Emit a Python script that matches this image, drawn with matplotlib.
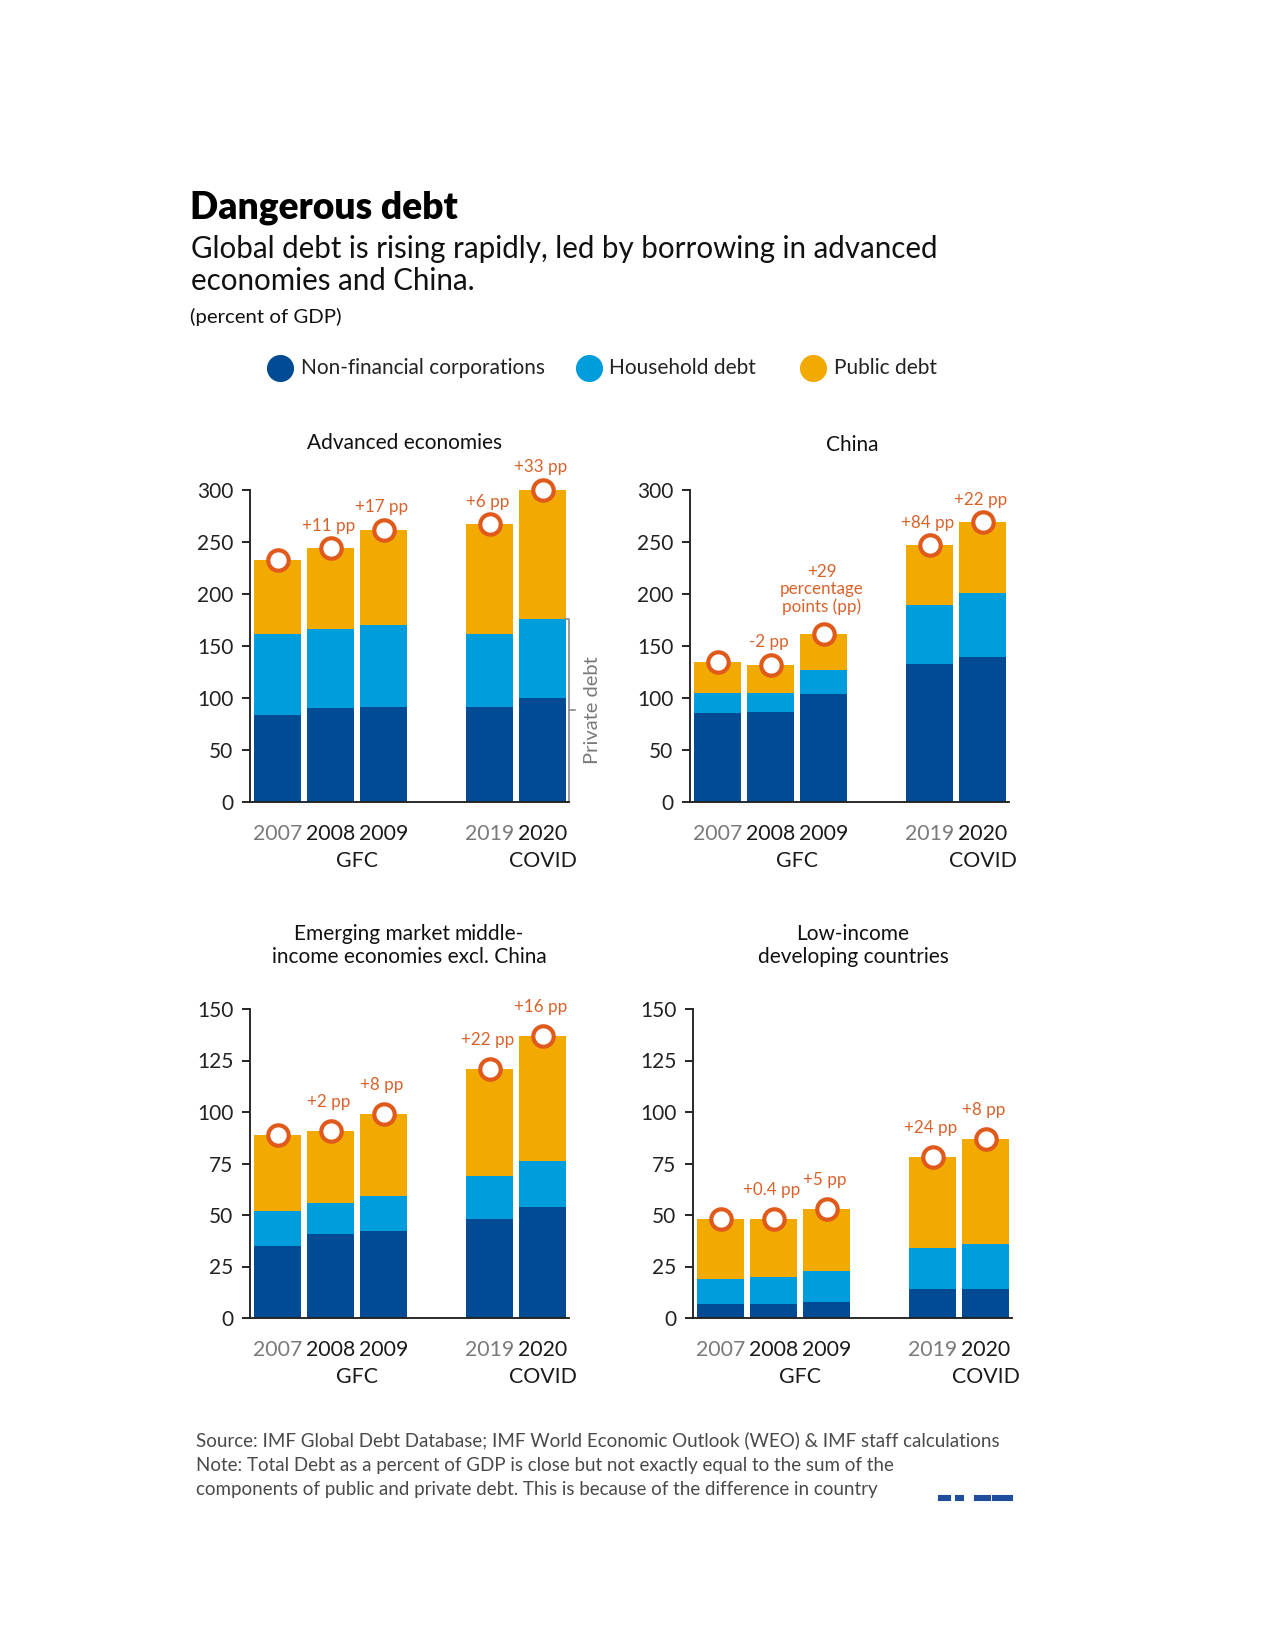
import matplotlib.pyplot as plt
from matplotlib.transforms import blended_transform_factory

# Canvas in pixels (8.5 x 11 in at 150 dpi)
W, H = 1275, 1650

# ---- data (percent of GDP) ----
years = ['2007', '2008', '2009', '2019', '2020']
year_colors = ['#7a7a7a', '#1a1a1a', '#1a1a1a', '#7a7a7a', '#1a1a1a']
xpos = [0, 1, 2, 4, 5]

adv_nfc = [84, 90, 91, 91, 100]
adv_household = [78, 76, 79, 71, 76]
adv_public = [71, 78, 92, 105, 124]
adv_labels = [None, '+11 pp', '+17 pp', '+6 pp', '+33 pp']

china_nfc = [86, 87, 104, 133, 139]
china_household = [19, 18, 23, 56, 62]
china_public = [30, 27, 35, 58, 68]
china_labels = [None, '-2 pp', '+29\npercentage\npoints (pp)', '+84 pp', '+22 pp']

em_nfc = [35, 41, 42, 48, 54]
em_household = [17, 15, 17, 21, 22]
em_public = [37, 35, 40, 52, 61]
em_labels = [None, '+2 pp', '+8 pp', '+22 pp', '+16 pp']

lic_nfc = [7, 7, 8, 14, 14]
lic_household = [12, 13, 15, 20, 22]
lic_public = [29, 28, 30, 44, 51]
lic_labels = [None, '+0.4 pp', '+5 pp', '+24 pp', '+8 pp']

C_NFC = '#004b93'
C_HH = '#009ddc'
C_PUB = '#f2a900'
C_ANN = '#d9622b'
C_RING = '#e05a1b'

plt.rcParams['font.family'] = ['Lato', 'DejaVu Sans']

fig = plt.figure(figsize=(W / 150, H / 150), dpi=150)


def fx(x):
    return x / W


def fy(y):
    return 1 - y / H


def add_panel(left, top, bottom, ymax, step, nfc, hh, pub, labels, ann_off):
    width = 319
    ax = fig.add_axes([fx(left), fy(bottom), width / W, (bottom - top) / H])
    b1 = [a + b for a, b in zip(nfc, hh)]
    total = [a + b for a, b in zip(b1, pub)]
    ax.bar(xpos, nfc, width=0.9, color=C_NFC, linewidth=0)
    ax.bar(xpos, hh, width=0.9, bottom=nfc, color=C_HH, linewidth=0)
    ax.bar(xpos, pub, width=0.9, bottom=b1, color=C_PUB, linewidth=0)
    ax.plot(xpos, total, 'o', ms=9.8, mfc='white', mec=C_RING, mew=2,
            clip_on=False, zorder=5)
    for x, t, lab in zip(xpos, total, labels):
        if lab:
            off = ann_off + 2 if '\n' in lab else ann_off
            ax.annotate(lab, (x, t), xytext=(-1, off), textcoords='offset points',
                        ha='center', va='bottom', color=C_ANN, fontsize=8.2,
                        linespacing=1.1, annotation_clip=False)
    ax.set_xlim(-0.52, 5.5)
    ax.set_ylim(0, ymax)
    ax.set_yticks(range(0, ymax + 1, step))
    ax.tick_params(axis='y', direction='out', length=4, width=0.8, pad=4,
                   labelsize=10, labelcolor='#222222')
    ax.tick_params(axis='x', length=0)
    ax.set_xticks([])
    for s in ['top', 'right']:
        ax.spines[s].set_visible(False)
    for s in ['left', 'bottom']:
        ax.spines[s].set_linewidth(0.9)
        ax.spines[s].set_color('#222222')
    trans = blended_transform_factory(ax.transData, ax.transAxes)
    for x, yr, c in zip(xpos, years, year_colors):
        ax.annotate(yr, (x, 0), xycoords=trans, xytext=(0, -15.5), textcoords='offset points',
                    ha='center', va='center', fontsize=10.2, color=c)
    ax.annotate('GFC', (1.5, 0), xycoords=trans, xytext=(0, -28.5), textcoords='offset points',
                ha='center', va='center', fontsize=10.2, color='#1a1a1a')
    ax.annotate('COVID', (5, 0), xycoords=trans, xytext=(0, -28.5), textcoords='offset points',
                ha='center', va='center', fontsize=10.2, color='#1a1a1a')
    return ax


ax1 = add_panel(250, 490, 802, 300, 50, adv_nfc, adv_household, adv_public, adv_labels, 7)
ax2 = add_panel(690, 490, 802, 300, 50, china_nfc, china_household, china_public,
                china_labels, 7)
ax3 = add_panel(250, 1009, 1318, 150, 25, em_nfc, em_household, em_public, em_labels, 10)
ax4 = add_panel(693, 1009, 1318, 150, 25, lic_nfc, lic_household, lic_public, lic_labels, 10)

# private debt bracket on the advanced economies panel
priv_top = adv_nfc[-1] + adv_household[-1]
ax1.plot([5.42, 5.5, 5.5, 5.42], [priv_top, priv_top, 0, 0], color='#8a8a8a',
         lw=0.8, clip_on=False)
ax1.plot([5.5, 5.62], [priv_top / 2, priv_top / 2], color='#8a8a8a', lw=0.8, clip_on=False)
ax1.text(5.95, priv_top / 2, 'Private debt', rotation=90, ha='center', va='center',
         fontsize=9.7, color='#7a7a7a')

# panel titles
tkw = dict(va='center', fontsize=10, color='#111111')
fig.text(fx(405), fy(443), 'Advanced economies', ha='center', **tkw)
fig.text(fx(852), fy(445), 'China', ha='center', **tkw)
fig.text(fx(450), fy(934), 'Emerging market', ha='right', **tkw)
fig.text(fx(455), fy(934), 'middle-', ha='left', **tkw)
fig.text(fx(409), fy(957), 'income economies excl. China', ha='center', **tkw)
fig.text(fx(853), fy(934), 'Low-income', ha='center', **tkw)
fig.text(fx(853), fy(957), 'developing countries', ha='center', **tkw)

# header
fig.text(fx(190), fy(208), 'Dangerous debt', ha='left', va='center',
         fontsize=17.8, weight='heavy', color='#000000')
fig.text(fx(191), fy(249), 'Global debt is rising rapidly, led by borrowing in advanced',
         ha='left', va='center', fontsize=14.2, color='#111111')
fig.text(fx(191), fy(281), 'economies and China.', ha='left', va='center',
         fontsize=14.2, color='#111111')
fig.text(fx(190), fy(317), '(percent of GDP)', ha='left', va='center',
         fontsize=9.8, color='#111111')

# legend
for cx, tx, col, lab in [(280, 301, C_NFC, 'Non-financial corporations'),
                         (589, 609, C_HH, 'Household debt'),
                         (813, 834, C_PUB, 'Public debt')]:
    fig.lines.append(plt.Line2D([fx(cx)], [fy(368)], marker='o', ms=12, color=col,
                                transform=fig.transFigure))
    fig.text(fx(tx), fy(368), lab, ha='left', va='center', fontsize=10, color='#222222')

# footer
foot = ['Source: IMF Global Debt Database; IMF World Economic Outlook (WEO) & IMF staff calculations',
        'Note: Total Debt as a percent of GDP is close but not exactly equal to the sum of the',
        'components of public and private debt. This is because of the difference in country']
for i, line in enumerate(foot):
    fig.text(fx(196), fy(1440 + 25 * i), line, ha='left', va='center',
             fontsize=9, color='#4a4a4a')

# cut-off logo strokes
for x0, x1 in [(939, 950), (956, 963), (975, 990), (993, 1012)]:
    fig.patches.append(plt.Rectangle((fx(x0), fy(1500)), (x1 - x0) / W, 4 / H,
                                     color='#1f4e9c', transform=fig.transFigure))

fig.savefig('out.png', dpi=150, facecolor='white')
